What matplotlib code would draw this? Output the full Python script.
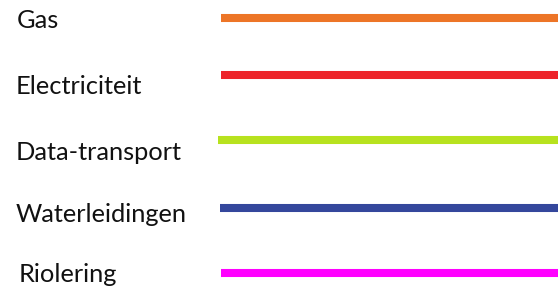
import matplotlib
matplotlib.use("Agg")
import matplotlib.pyplot as plt

# legend entries
labels = ["Gas", "Electriciteit", "Data-transport", "Waterleidingen", "Riolering"]
colors = ["#ED7527", "#ED2229", "#B7E21E", "#34479C", "#FF00FF"]

# layout (pixel coordinates of the 558x288 canvas)
line_y = [17.5, 75, 140, 207.5, 273]
text_y = [21, 87, 153, 214, 275]
text_x = [17, 16, 16, 16, 19]
line_x0 = [221, 221, 218, 220, 221]
line_x1 = 558

fig = plt.figure(figsize=(5.58, 2.88), dpi=100)
ax = fig.add_axes([0, 0, 1, 1])
ax.set_xlim(0, 558)
ax.set_ylim(288, 0)
ax.axis("off")

for i, (lab, col) in enumerate(zip(labels, colors)):
    ax.plot([line_x0[i], line_x1], [line_y[i], line_y[i]], color=col,
            lw=5.8, solid_capstyle="butt")
    ax.text(text_x[i], text_y[i], lab, fontsize=18.3, family="Lato",
            color="#111111", va="center", ha="left")

fig.savefig("out.png", dpi=100)
